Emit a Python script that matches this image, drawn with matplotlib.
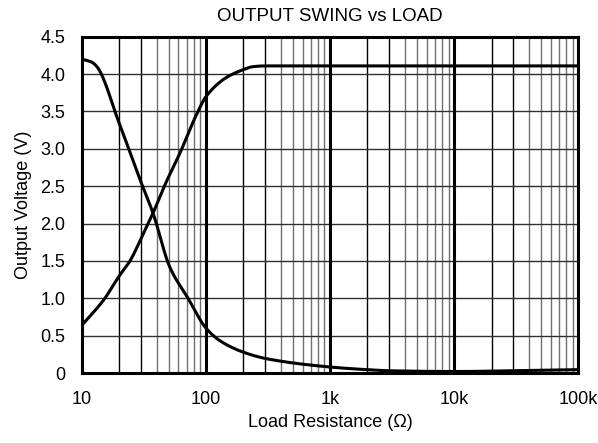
import numpy as np
import matplotlib
matplotlib.use("Agg")
import matplotlib.pyplot as plt
from matplotlib.ticker import FixedLocator, NullFormatter

plt.rcParams['font.family'] = ['Liberation Sans', 'DejaVu Sans']

# curve falling from ~4.2 V
r_low = [10, 12, 13.2, 20, 30, 37.4, 51, 71.6, 100, 130, 199, 310, 1000, 1750, 3000, 10000, 30000, 100000]
v_low = [4.20, 4.16, 4.10, 3.34, 2.55, 2.14, 1.42, 1.00, 0.60, 0.43, 0.28, 0.19, 0.08, 0.05, 0.03, 0.02, 0.03, 0.045]

# curve rising to ~4.1 V
r_high = [10, 15, 20, 24.4, 30, 37.4, 48.5, 54, 61.5, 85, 100, 147.6, 200, 239, 300, 1000, 100000]
v_high = [0.64, 0.98, 1.30, 1.50, 1.80, 2.14, 2.58, 2.74, 2.94, 3.48, 3.70, 3.96, 4.06, 4.10, 4.11, 4.11, 4.11]

x_ticks = [10, 100, 1000, 10000, 100000]
x_labels = ["10", "100", "1k", "10k", "100k"]
y_ticks = [0, 0.5, 1.0, 1.5, 2.0, 2.5, 3.0, 3.5, 4.0, 4.5]
y_labels = ["0", "0.5", "1.0", "1.5", "2.0", "2.5", "3.0", "3.5", "4.0", "4.5"]


def pchip(xs, ys, n=600):
    # monotone cubic (Fritsch-Carlson) in log10(x)
    x = np.log10(np.asarray(xs, float))
    y = np.asarray(ys, float)
    h = np.diff(x)
    d = np.diff(y) / h
    m = np.zeros_like(y)
    m[0], m[-1] = d[0], d[-1]
    for i in range(1, len(y) - 1):
        if d[i - 1] * d[i] <= 0:
            m[i] = 0
        else:
            w1 = 2 * h[i] + h[i - 1]
            w2 = h[i] + 2 * h[i - 1]
            m[i] = (w1 + w2) / (w1 / d[i - 1] + w2 / d[i])
    g = np.linspace(x[0], x[-1], n)
    k = np.clip(np.searchsorted(x, g) - 1, 0, len(x) - 2)
    t = (g - x[k]) / h[k]
    h00 = 2 * t**3 - 3 * t**2 + 1
    h10 = t**3 - 2 * t**2 + t
    h01 = -2 * t**3 + 3 * t**2
    h11 = t**3 - t**2
    yy = h00 * y[k] + h10 * h[k] * m[k] + h01 * y[k + 1] + h11 * h[k] * m[k + 1]
    return 10 ** g, yy


fig = plt.figure(figsize=(5.98, 4.43), dpi=100)
ax = fig.add_axes([0.137, 0.158, 0.83, 0.759])
ax.set_xscale("log")
ax.set_xlim(10, 100000)
ax.set_ylim(0, 4.5)

# grid: minor decades
minors = [m * 10 ** d for d in range(1, 5) for m in range(2, 10)]
for v in minors:
    m = round(v / 10 ** np.floor(np.log10(v)))
    col = "black" if m in (2, 3) else "#707070"
    ax.axvline(v, color=col, lw=1.0, zorder=1)
for v in x_ticks[1:-1]:
    ax.axvline(v, color="black", lw=2.2, zorder=2)
for v in y_ticks[1:-1]:
    ax.axhline(v, color="#303030", lw=1.0, zorder=1)

xs, ys = pchip(r_low, v_low)
ax.plot(xs, ys, color="black", lw=2.2, zorder=3, solid_capstyle="butt")
xs, ys = pchip(r_high, v_high)
ax.plot(xs, ys, color="black", lw=2.2, zorder=3, solid_capstyle="butt")

ax.xaxis.set_major_locator(FixedLocator(x_ticks))
ax.set_xticklabels(x_labels)
ax.xaxis.set_minor_formatter(NullFormatter())
ax.set_yticks(y_ticks)
ax.set_yticklabels(y_labels)
ax.tick_params(which="both", length=0, labelsize=13)
ax.tick_params(axis="x", pad=13)
ax.tick_params(axis="y", pad=12)

for s in ax.spines.values():
    s.set_linewidth(2.2)

ax.set_title("OUTPUT SWING vs LOAD", fontsize=13.5, pad=11)
ax.set_xlabel("Load Resistance (Ω)", fontsize=13, labelpad=4)
ax.set_ylabel("Output Voltage (V)", fontsize=13, labelpad=6)

fig.savefig("out.png", dpi=100)
